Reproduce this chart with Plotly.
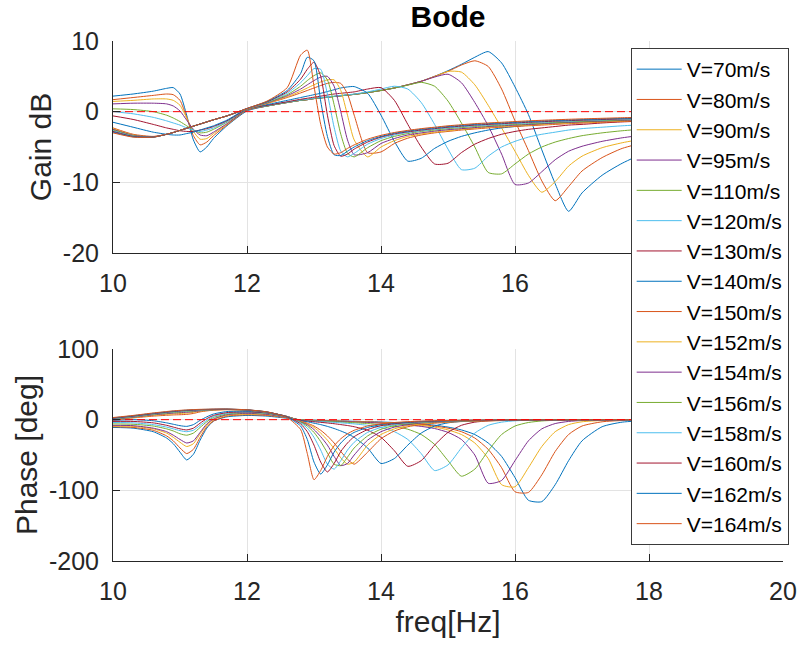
import plotly.graph_objects as go

# Frequency grid (Hz) shared by every curve
FREQ_HZ = [10.0, 10.3, 10.6, 10.8, 10.9, 11.0, 11.1, 11.2, 11.3, 11.4, 11.5, 11.7,
           12.0, 12.3, 12.6, 12.8, 12.9, 13.0, 13.1, 13.2, 13.3, 13.4, 13.5, 13.6,
           13.8, 14.0, 14.2, 14.4, 14.6, 14.8, 15.0, 15.2, 15.4, 15.6, 15.8, 16.0,
           16.2, 16.4, 16.6, 16.8, 17.0, 17.3, 17.6, 18.0, 18.5, 19.0, 20.0]

SPEEDS = [70, 80, 90, 95, 110, 120, 130, 140, 150, 152, 154, 156, 158, 160, 162, 164]

# Tick positions / labels
FREQ_TICKS = [10, 12, 14, 16, 18, 20]
GAIN_TICKS = [-20, -10, 0, 10]
PHASE_TICKS = [-200, -100, 0, 100]

# ---- gain [dB] ----
gain_70 = [2.2, 2.5, 2.9, 3.3, 3.4, 2.5, -0.5, -4.0, -5.7, -5.0, -3.8, -2.0,
           0.1, 0.8, 1.3, 1.6, 1.7, 1.85, 1.95, 2.05, 2.15, 2.25, 2.35, 2.45,
           2.7, 3.0, 3.35, 3.8, 4.3, 5.0, 5.8, 6.7, 7.7, 8.5, 6.9, 3.5,
           -0.4, -5.4, -10.2, -14.1, -11.5, -9.0, -7.3, -5.6, -4.3, -3.4, -2.2]
gain_80 = [1.7, 2.0, 2.3, 2.5, 2.4, 1.6, -0.8, -3.4, -4.7, -4.3, -3.4, -1.9,
           0.2, 0.8, 1.3, 1.6, 1.7, 1.85, 1.95, 2.05, 2.15, 2.25, 2.35, 2.45,
           2.7, 3.0, 3.35, 3.8, 4.3, 5.0, 5.7, 6.6, 7.2, 6.4, 3.2, -1.3,
           -5.5, -9.8, -12.6, -10.6, -8.4, -6.5, -5.2, -4.2, -3.3, -2.7, -1.7]
gain_90 = [1.45, 1.6, 1.8, 1.8, 1.6, 0.9, -0.9, -2.8, -3.9, -3.8, -3.1, -1.8,
           0.25, 0.8, 1.3, 1.6, 1.7, 1.85, 1.95, 2.05, 2.15, 2.25, 2.35, 2.45,
           2.7, 3.0, 3.35, 3.8, 4.3, 4.95, 5.7, 5.6, 3.8, 0.9, -2.3, -5.6,
           -9.0, -11.4, -9.9, -7.7, -6.3, -5.1, -4.4, -3.7, -2.9, -2.3, -1.5]
gain_95 = [1.1, 1.2, 1.2, 1.1, 0.8, 0.1, -1.2, -2.5, -3.3, -3.4, -2.9, -1.7,
           0.25, 0.8, 1.3, 1.6, 1.7, 1.85, 1.95, 2.05, 2.15, 2.25, 2.35, 2.45,
           2.7, 3.0, 3.35, 3.8, 4.3, 4.9, 5.3, 4.1, 1.3, -2.0, -6.0, -10.3,
           -10.1, -8.5, -6.8, -5.6, -4.9, -4.2, -3.7, -3.2, -2.6, -2.1, -1.4]
gain_110 = [0.4, 0.3, 0.0, -0.5, -0.9, -1.4, -2.0, -2.6, -3.0, -2.9, -2.5, -1.5,
            0.3, 0.8, 1.3, 1.6, 1.7, 1.85, 1.95, 2.05, 2.15, 2.25, 2.35, 2.45,
            2.7, 3.0, 3.35, 3.75, 4.15, 3.6, 1.5, -1.6, -5.0, -8.6, -8.8, -7.4,
            -6.0, -5.0, -4.3, -3.8, -3.4, -3.0, -2.7, -2.4, -2.0, -1.7, -1.1]
gain_120 = [0.0, -0.3, -0.8, -1.3, -1.6, -1.9, -2.3, -2.6, -2.8, -2.6, -2.3, -1.4,
            0.35, 0.85, 1.35, 1.65, 1.75, 1.9, 2.0, 2.1, 2.2, 2.3, 2.4, 2.5,
            2.8, 3.2, 3.6, 3.2, 1.3, -1.8, -5.3, -8.2, -8.0, -6.3, -5.0, -4.2,
            -3.6, -3.2, -2.9, -2.6, -2.4, -2.2, -2.0, -1.8, -1.55, -1.3, -0.9]
gain_130 = [-0.6, -1.1, -1.8, -2.3, -2.5, -2.7, -2.8, -2.8, -2.6, -2.4, -2.1, -1.3,
            0.35, 0.9, 1.4, 1.75, 1.9, 2.05, 2.2, 2.35, 2.5, 2.6, 2.7, 2.8,
            3.2, 3.4, 1.6, -1.8, -5.0, -7.4, -7.3, -5.8, -4.6, -3.8, -3.2, -2.8,
            -2.5, -2.3, -2.1, -1.9, -1.8, -1.6, -1.45, -1.3, -1.15, -1.0, -0.7]
gain_140 = [-1.5, -2.2, -2.9, -3.2, -3.3, -3.3, -3.1, -2.9, -2.6, -2.3, -2.0, -1.2,
            0.4, 1.0, 1.6, 2.0, 2.2, 2.4, 2.6, 2.85, 3.1, 3.35, 3.5, 3.55,
            2.6, -0.5, -4.2, -7.0, -6.6, -5.2, -4.2, -3.5, -3.0, -2.6, -2.3, -2.1,
            -1.9, -1.75, -1.6, -1.5, -1.4, -1.3, -1.2, -1.05, -0.9, -0.8, -0.55]
gain_150 = [-2.3, -3.2, -3.5, -3.2, -2.95, -2.65, -2.35, -2.05, -1.75, -1.45, -1.15, -0.6,
            0.35, 1.15, 2.0, 2.65, 3.0, 3.35, 3.7, 4.0, 4.15, 4.0, 2.5, -0.5,
            -5.8, -5.7, -4.5, -3.75, -3.3, -3.0, -2.8, -2.6, -2.45, -2.3, -2.2, -2.1,
            -2.0, -1.9, -1.8, -1.7, -1.62, -1.5, -1.38, -1.25, -1.1, -0.95, -0.7]
gain_152 = [-2.4, -3.3, -3.55, -3.2, -2.95, -2.65, -2.35, -2.05, -1.75, -1.45, -1.15, -0.6,
            0.4, 1.2, 2.1, 2.9, 3.35, 3.8, 4.2, 4.5, 4.5, 3.0, -0.5, -4.0,
            -6.4, -5.0, -4.1, -3.5, -3.15, -2.9, -2.7, -2.5, -2.35, -2.2, -2.1, -2.0,
            -1.9, -1.8, -1.7, -1.62, -1.54, -1.42, -1.31, -1.18, -1.03, -0.9, -0.67]
gain_154 = [-2.5, -3.35, -3.55, -3.2, -2.95, -2.65, -2.35, -2.05, -1.75, -1.45, -1.15, -0.6,
            0.4, 1.25, 2.25, 3.2, 3.8, 4.4, 4.9, 5.0, 3.6, 0.0, -4.0, -6.1,
            -5.8, -4.5, -3.8, -3.3, -3.0, -2.75, -2.55, -2.4, -2.25, -2.1, -2.0, -1.9,
            -1.8, -1.7, -1.6, -1.52, -1.45, -1.34, -1.24, -1.11, -0.97, -0.85, -0.63]
gain_156 = [-2.6, -3.4, -3.6, -3.2, -2.95, -2.65, -2.35, -2.05, -1.75, -1.45, -1.15, -0.6,
            0.4, 1.3, 2.4, 3.6, 4.4, 5.1, 5.5, 4.5, 1.0, -3.2, -5.9, -6.4,
            -5.1, -4.1, -3.5, -3.1, -2.8, -2.6, -2.4, -2.25, -2.1, -2.0, -1.9, -1.8,
            -1.7, -1.6, -1.52, -1.44, -1.37, -1.27, -1.17, -1.05, -0.92, -0.8, -0.6]
gain_158 = [-2.7, -3.45, -3.6, -3.2, -2.95, -2.65, -2.35, -2.05, -1.75, -1.45, -1.15, -0.6,
            0.4, 1.35, 2.6, 4.1, 5.1, 6.1, 6.0, 2.5, -2.2, -5.6, -6.4, -5.9,
            -4.6, -3.8, -3.3, -2.95, -2.7, -2.5, -2.3, -2.15, -2.0, -1.9, -1.8, -1.7,
            -1.6, -1.5, -1.42, -1.35, -1.28, -1.18, -1.09, -0.98, -0.86, -0.75, -0.56]
gain_160 = [-2.8, -3.5, -3.6, -3.2, -2.95, -2.65, -2.35, -2.05, -1.75, -1.45, -1.15, -0.6,
            0.45, 1.4, 2.8, 4.6, 6.0, 7.0, 5.0, -0.5, -4.8, -6.3, -6.0, -5.3,
            -4.3, -3.6, -3.15, -2.85, -2.6, -2.4, -2.2, -2.05, -1.9, -1.8, -1.7, -1.6,
            -1.5, -1.42, -1.34, -1.27, -1.2, -1.11, -1.02, -0.92, -0.8, -0.7, -0.52]
gain_162 = [-2.9, -3.55, -3.6, -3.2, -2.95, -2.65, -2.35, -2.05, -1.75, -1.45, -1.15, -0.6,
            0.45, 1.45, 3.0, 5.4, 7.7, 7.2, 1.5, -3.5, -6.1, -6.2, -5.6, -5.0,
            -4.1, -3.5, -3.05, -2.75, -2.5, -2.3, -2.1, -1.95, -1.8, -1.7, -1.6, -1.5,
            -1.4, -1.32, -1.25, -1.18, -1.12, -1.03, -0.95, -0.85, -0.74, -0.64, -0.48]
gain_164 = [-3.0, -3.6, -3.6, -3.2, -2.95, -2.65, -2.35, -2.05, -1.75, -1.45, -1.15, -0.6,
            0.45, 1.5, 3.4, 8.0, 8.7, 3.6, -1.8, -5.0, -6.0, -5.8, -5.2, -4.7,
            -3.9, -3.35, -2.95, -2.65, -2.4, -2.2, -2.0, -1.85, -1.7, -1.6, -1.5, -1.4,
            -1.3, -1.22, -1.15, -1.08, -1.02, -0.94, -0.86, -0.77, -0.67, -0.58, -0.43]

# ---- phase [deg] ----
phase_70 = [-11, -12, -17, -26, -34, -46, -57, -49, -29, -12, -2, 4,
            6, 5, 2, -0.3, -0.5, -0.8, -1.0, -1.2, -1.5, -1.8, -2.0, -2.3,
            -2.8, -3.3, -4.0, -4.9, -6.0, -7.8, -10.5, -14.5, -21, -33, -52, -82,
            -114, -116, -92, -58, -30, -10, -3.5, -1.2, -0.4, -0.2, 0]
phase_80 = [-10, -11, -15, -23, -30, -40, -48, -42, -25, -10, -2, 5,
            7, 6, 2.5, -0.3, -0.6, -0.9, -1.2, -1.5, -1.8, -2.1, -2.4, -2.7,
            -3.2, -3.8, -4.6, -5.6, -7.0, -9.0, -12, -17, -26, -42, -68, -102,
            -103, -78, -45, -21, -9, -3, -1.2, -0.4, -0.2, 0, 0]
phase_90 = [-9, -9.5, -13, -19, -25, -32, -38, -34, -20, -8, 0, 6,
            8, 7, 2.8, -0.4, -0.8, -1.2, -1.5, -1.8, -2.1, -2.4, -2.7, -3.0,
            -3.6, -4.3, -5.2, -6.4, -8.0, -10.5, -14.5, -21, -33, -55, -92, -95,
            -68, -38, -17, -7, -3, -1.2, -0.5, -0.2, 0, 0, 0]
phase_95 = [-8, -8.5, -12, -17, -22, -28, -33, -30, -18, -6, 1, 7,
            9, 7.5, 3, -0.5, -1.0, -1.4, -1.7, -2.0, -2.3, -2.6, -2.9, -3.2,
            -4.0, -4.8, -6.0, -7.5, -9.5, -12.5, -18, -28, -50, -90, -86, -58,
            -30, -13, -5.5, -2.5, -1.2, -0.5, -0.2, 0, 0, 0, 0]
phase_110 = [-6, -6.5, -9, -13, -16, -20, -22, -19, -11, -3, 3, 8,
             10, 8.5, 3.5, -0.6, -1.2, -1.7, -2.1, -2.5, -2.9, -3.3, -3.8, -4.3,
             -5.5, -7.0, -9.5, -13.5, -21, -35, -58, -80, -70, -44, -21, -9,
             -4, -1.8, -0.9, -0.4, -0.2, 0, 0, 0, 0, 0, 0]
phase_120 = [-4, -4.5, -7, -10.5, -13, -15.5, -17, -15, -8, -1, 4.5, 9,
             10.5, 9, 3.5, -0.8, -1.5, -2.2, -2.7, -3.2, -3.8, -4.5, -5.2, -6.0,
             -8.0, -11, -17, -28, -48, -72, -64, -40, -19, -8, -3.5, -1.6,
             -0.8, -0.4, -0.2, 0, 0, 0, 0, 0, 0, 0, 0]
phase_130 = [-2.5, -2.5, -4.5, -8, -10.5, -13, -14.5, -12, -5, 1.5, 6, 10,
             11, 9.5, 4, -1.0, -2.0, -3.0, -3.8, -4.7, -5.7, -7.0, -8.3, -10,
             -15, -25, -44, -66, -58, -36, -18, -8, -3.5, -1.7, -0.9, -0.5,
             -0.3, -0.2, -0.1, 0, 0, 0, 0, 0, 0, 0, 0]
phase_140 = [-1, 0, -1.5, -4.5, -6.5, -8.5, -9.5, -7, -1, 4, 8, 11.5,
             12, 10, 4.5, -1.5, -3.0, -5.0, -7.0, -9.5, -12.5, -16, -20, -25,
             -40, -62, -55, -36, -19, -9, -4.5, -2.5, -1.5, -1.0, -0.7, -0.5,
             -0.3, -0.2, -0.1, 0, 0, 0, 0, 0, 0, 0, 0]
phase_150 = [-0.5, 2.5, 5, 6.2, 6.7, 7, 7.5, 8.8, 11, 12.4, 13.4, 14.1,
             13.3, 10.3, 4.5, -2, -5, -9, -15, -23, -33, -45, -56, -63,
             -46, -27, -16, -10, -7, -5, -3.6, -2.7, -2.1, -1.6, -1.3, -1.0,
             -0.8, -0.6, -0.5, -0.4, -0.3, -0.2, -0.15, -0.1, 0, 0, 0]
phase_152 = [0, 3, 6, 7.5, 8.2, 8.7, 9.2, 10.3, 11.8, 12.9, 13.7, 14.3,
             13.4, 10.4, 4.5, -2.5, -6, -11, -19, -29, -41, -54, -63, -60,
             -36, -21, -13, -8.5, -5.8, -4.2, -3.1, -2.4, -1.9, -1.5, -1.2, -0.9,
             -0.7, -0.55, -0.45, -0.35, -0.3, -0.2, -0.15, -0.1, 0, 0, 0]
phase_154 = [0.5, 3.5, 6.8, 8.5, 9.3, 9.9, 10.5, 11.4, 12.5, 13.3, 14, 14.5,
             13.5, 10.5, 4.4, -3, -7, -14, -24, -36, -52, -65, -62, -50,
             -29, -17, -10.5, -7, -4.8, -3.5, -2.7, -2.1, -1.6, -1.3, -1.0, -0.8,
             -0.65, -0.5, -0.4, -0.3, -0.25, -0.2, -0.15, -0.1, 0, 0, 0]
phase_156 = [1, 4, 7.5, 9.3, 10.2, 10.9, 11.6, 12.3, 13.1, 13.7, 14.2, 14.6,
             13.6, 10.6, 4.3, -3.5, -9, -18, -31, -47, -63, -65, -53, -40,
             -23, -13.5, -8.5, -5.7, -4.1, -3.0, -2.3, -1.8, -1.4, -1.1, -0.85, -0.65,
             -0.5, -0.4, -0.3, -0.25, -0.2, -0.15, -0.1, 0, 0, 0, 0]
phase_158 = [1.5, 4.5, 8, 10, 11, 11.7, 12.4, 13, 13.6, 14, 14.4, 14.7,
             13.7, 10.7, 4.2, -4.5, -12, -25, -43, -63, -70, -58, -43, -32,
             -18, -11, -7, -4.8, -3.5, -2.6, -2.0, -1.5, -1.2, -0.9, -0.7, -0.55,
             -0.45, -0.35, -0.3, -0.25, -0.2, -0.15, -0.1, 0, 0, 0, 0]
phase_160 = [2, 5, 8.5, 10.5, 11.5, 12.3, 13, 13.5, 14, 14.3, 14.6, 14.8,
             13.8, 10.8, 4, -6, -17, -36, -60, -74, -62, -45, -33, -24,
             -14, -8.5, -5.8, -4.0, -3.0, -2.2, -1.7, -1.3, -1.0, -0.8, -0.6, -0.5,
             -0.4, -0.3, -0.25, -0.2, -0.15, -0.1, -0.1, 0, 0, 0, 0]
phase_162 = [2.5, 5.5, 9, 11, 12, 12.8, 13.4, 13.9, 14.3, 14.6, 14.8, 14.9,
             13.9, 10.9, 3.5, -9, -28, -60, -77, -64, -46, -33, -24, -18,
             -11, -7, -4.8, -3.4, -2.5, -1.9, -1.4, -1.0, -0.8, -0.6, -0.5, -0.4,
             -0.3, -0.25, -0.2, -0.15, -0.1, -0.1, 0, 0, 0, 0, 0]
phase_164 = [3, 6, 9.5, 11.5, 12.5, 13.2, 13.8, 14.2, 14.6, 14.8, 15, 15,
             14, 11, 3, -14, -48, -85, -72, -52, -37, -27, -20, -15,
             -9, -6, -4, -2.8, -2, -1.5, -1.1, -0.8, -0.6, -0.5, -0.4, -0.3,
             -0.25, -0.2, -0.15, -0.1, -0.1, 0, 0, 0, 0, 0, 0]

GAINS = [gain_70, gain_80, gain_90, gain_95, gain_110, gain_120, gain_130, gain_140,
         gain_150, gain_152, gain_154, gain_156, gain_158, gain_160, gain_162, gain_164]
PHASES = [phase_70, phase_80, phase_90, phase_95, phase_110, phase_120, phase_130, phase_140,
          phase_150, phase_152, phase_154, phase_156, phase_158, phase_160, phase_162, phase_164]

for arr in GAINS + PHASES:
    assert len(arr) == len(FREQ_HZ), len(arr)

# MATLAB default line colour order
COLORS = ["#0072BD", "#D95319", "#EDB120", "#7E2F8E", "#77AC30", "#4DBEEE", "#A2142F"]

FONT = "Liberation Sans, Arial, Helvetica, sans-serif"
AX_COLOR = "#262626"
GRID_COLOR = "#e3e3e3"


def tick_text(values):
    # plain ASCII hyphen for negative numbers
    return [str(v) for v in values]


fig = go.Figure()

for i, (v, g) in enumerate(zip(SPEEDS, GAINS)):
    fig.add_trace(go.Scatter(
        x=FREQ_HZ, y=g, mode="lines", name=f"V={v}m/s",
        line=dict(color=COLORS[i % len(COLORS)], width=1, shape="spline", smoothing=0.6),
        legendgroup=str(v), xaxis="x", yaxis="y"))

for i, (v, p) in enumerate(zip(SPEEDS, PHASES)):
    fig.add_trace(go.Scatter(
        x=FREQ_HZ, y=p, mode="lines", name=f"V={v}m/s", showlegend=False,
        line=dict(color=COLORS[i % len(COLORS)], width=1, shape="spline", smoothing=0.6),
        legendgroup=str(v), xaxis="x2", yaxis="y2"))

# zero reference lines
for ya, xa in (("y", "x"), ("y2", "x2")):
    fig.add_trace(go.Scatter(
        x=[FREQ_HZ[0], FREQ_HZ[-1]], y=[0, 0], mode="lines", showlegend=False,
        line=dict(color="#FF0000", width=1, dash="8px,4px"),
        xaxis=xa, yaxis=ya, hoverinfo="skip"))

axis_common = dict(
    showgrid=True, gridcolor=GRID_COLOR, gridwidth=1,
    showline=True, linecolor=AX_COLOR, linewidth=1,
    ticks="inside", ticklen=7, tickcolor=AX_COLOR, tickwidth=1,
    zeroline=False, mirror=False,
    tickfont=dict(family=FONT, size=25, color=AX_COLOR),
)

W, H = 809, 646
ML, MR, MT, MB = 113, 23, 41, 85
plot_h = H - MT - MB
plot_w = W - ML - MR


def ydom(top_px, bottom_px):
    return [(H - MB - bottom_px) / plot_h, (H - MB - top_px) / plot_h]


# the legend box hides the upper panel's last two frequency labels
top_freq_text = [str(v) if v < 18 else "" for v in FREQ_TICKS]

fig.update_layout(
    width=W, height=H,
    margin=dict(l=ML, r=MR, t=MT, b=MB),
    paper_bgcolor="white", plot_bgcolor="white",
    font=dict(family=FONT, size=25, color=AX_COLOR),
    title=dict(text="<b>Bode</b>", x=0.5, xref="paper", xanchor="center",
               y=1 - 16 / H, yref="container", yanchor="middle",
               font=dict(family=FONT, size=30, color="#000000")),
    xaxis=dict(domain=[0, 1], anchor="y", range=[10, 20],
               tickmode="array", tickvals=FREQ_TICKS, ticktext=top_freq_text,
               ticklabelstandoff=8, **axis_common),
    yaxis=dict(domain=ydom(41, 253), anchor="x", range=[-20, 10],
               tickmode="array", tickvals=GAIN_TICKS, ticktext=tick_text(GAIN_TICKS),
               ticklabelstandoff=8,
               title=dict(text="Gain dB", font=dict(family=FONT, size=30, color=AX_COLOR), standoff=2),
               **axis_common),
    xaxis2=dict(domain=[0, 1], anchor="y2", range=[10, 20],
                tickmode="array", tickvals=FREQ_TICKS, ticktext=tick_text(FREQ_TICKS),
                ticklabelstandoff=8,
                title=dict(text="freq[Hz]", font=dict(family=FONT, size=30, color=AX_COLOR), standoff=6),
                **axis_common),
    yaxis2=dict(domain=ydom(349, 561), anchor="x2", range=[-200, 100],
                tickmode="array", tickvals=PHASE_TICKS, ticktext=tick_text(PHASE_TICKS),
                ticklabelstandoff=8,
                title=dict(text="Phase [deg]", font=dict(family=FONT, size=30, color=AX_COLOR), standoff=2),
                **axis_common),
    legend=dict(x=(633 - ML) / plot_w, xanchor="left", y=(H - MB - 48) / plot_h, yanchor="top",
                bgcolor="white", bordercolor="#3a3a3a", borderwidth=1,
                font=dict(family=FONT, size=21, color="#000000"),
                itemwidth=45, tracegroupgap=0),
    showlegend=True,
)

fig.write_html("out.html")
